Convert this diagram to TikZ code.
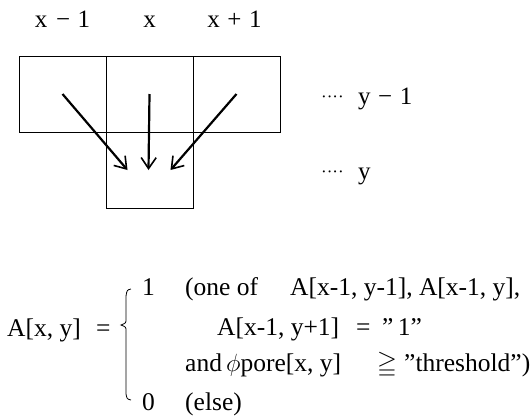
\documentclass[tikz,border=0pt]{standalone}
\usepackage{amssymb}
\usepackage{fontspec}
\setmainfont{Liberation Serif}
\usetikzlibrary{arrows.meta,positioning}
\tikzset{
  cell/.style={draw, minimum width=87pt, minimum height=76pt, inner sep=0pt,
               outer sep=0pt, line width=0.8pt},
  lbl/.style={font=\fontsize{25}{29}\selectfont, inner sep=0pt},
  fml/.style={font=\fontsize{25.5}{29}\selectfont, inner sep=0pt, anchor=base west},
  dotlbl/.style={font=\fontsize{17}{20}\selectfont, inner sep=0pt, anchor=base east},
  flow/.style={-{Straight Barb[length=11pt, width=15pt, line width=1.6pt]}, line width=2.2pt},
}

\begin{document}
\begin{tikzpicture}[x=1pt, y=-1pt]
  \useasboundingbox (0,0) rectangle (532,416);
  % cells
  \node[cell] (cellM) at (149.5,94) {};
  \node[cell, left=0pt of cellM] (cellL) {};
  \node[cell, right=0pt of cellM] (cellR) {};
  \node[cell, below=0pt of cellM] (cellB) {};
  % column labels
  \node[lbl, above=28pt of cellL] (colL) {x\hspace{0.35em}−\hspace{0.3em}1};
  \node[lbl, above=28pt of cellM] (colM) {x};
  \node[lbl, above=28pt of cellR, xshift=-2pt] (colR) {x\hspace{0.3em}+\hspace{0.3em}1};
  % row labels
  \node[lbl, anchor=base west] (rowU) at (358,104) {y\hspace{0.3em}−\hspace{0.3em}1};
  \node[lbl, anchor=base west] (rowD) at (358,179) {y};
  \node[dotlbl] at ([xshift=-14pt, yshift=2pt]rowU.base west) {····};
  \node[dotlbl] at ([xshift=-14pt, yshift=2pt]rowD.base west) {····};
  % arrows
  \draw[flow] (cellL.center) -- ([xshift=-22pt]cellB.center);
  \draw[flow] (cellM.center) -- ([xshift=-1pt]cellB.center);
  \draw[flow] (cellR.center) -- ([xshift=21pt]cellB.center);
  % formula
  \node[fml] (lhs) at (7,336) {A[x, y]};
  \node[fml] (eq) at (96,336) {=};
  \draw[line width=0.8pt] (131,289) .. controls (127,290) .. (126,296) -- (126,319)
    .. controls (126,323) .. (121,325) .. controls (126,327) .. (126,331) -- (126,394)
    .. controls (127,399) .. (131,400);
  \node[fml] (one) at (142,295) {1};
  \node[fml] (cond) at (185,295) {(one of};
  \node[fml] (nbA) at (290,295) {A[x-1, y-1], A[x-1, y],};
  \node[fml] (nbB) at (217,335) {A[x-1, y+1]};
  \node[fml] (eqB) at (356,335) {=};
  \node[fml] (val) at (382,335) {”\,1”};
  \node[fml] (andw) at (185,371) {and};
  \node[fml] (pore) at (226,371) {$\phi$pore[x, y]};
  \node[fml] (geq) at (377,371) {$\geqq$};
  \node[fml] (thr) at (404,371) {”threshold”)};
  \node[fml] (zero) at (142,410) {0};
  \node[fml] (els) at (185,410) {(else)};
\end{tikzpicture}
\end{document}
